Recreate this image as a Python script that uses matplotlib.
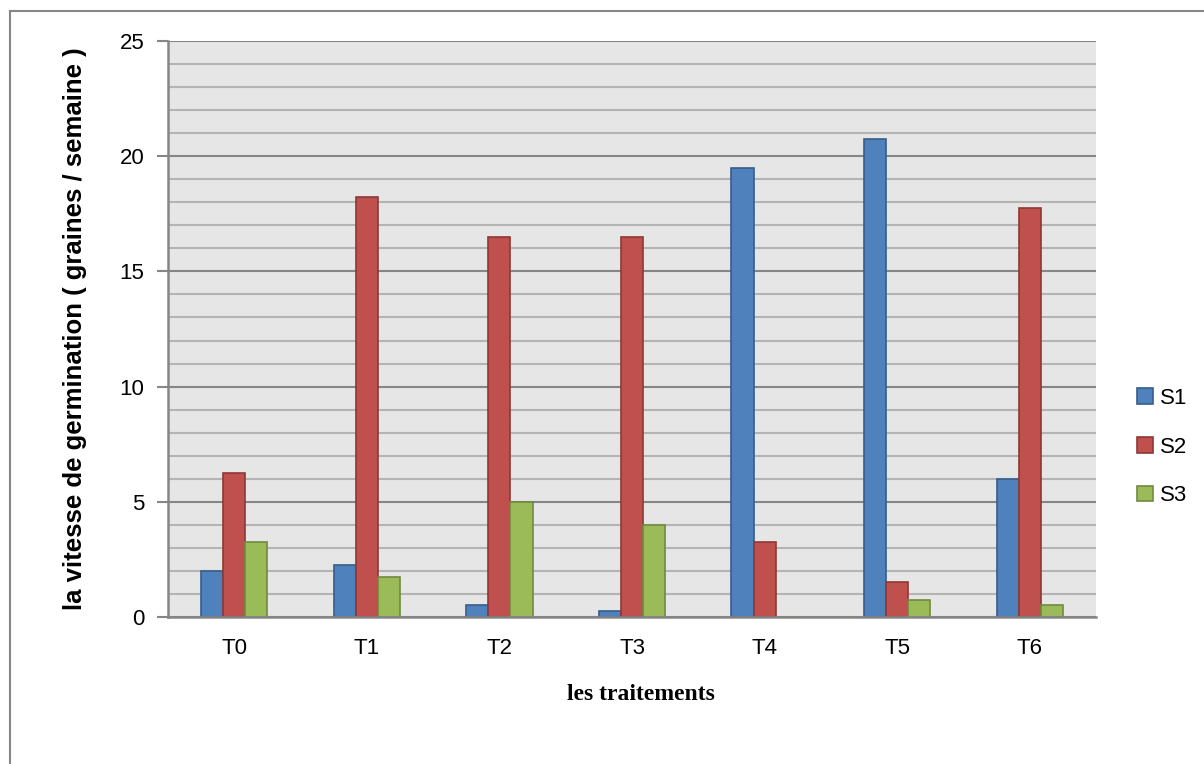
import numpy as np
import matplotlib
matplotlib.use("Agg")
import matplotlib.pyplot as plt
from matplotlib.lines import Line2D
from matplotlib.ticker import MultipleLocator

# Germination speed per treatment and sowing
traitements = ["T0", "T1", "T2", "T3", "T4", "T5", "T6"]
s1 = [2.0, 2.25, 0.5, 0.25, 19.5, 20.75, 6.0]
s2 = [6.25, 18.25, 16.5, 16.5, 3.25, 1.5, 17.75]
s3 = [3.25, 1.75, 5.0, 4.0, 0.0, 0.75, 0.5]
series_names = ["S1", "S2", "S3"]

fills = ["#4F81BD", "#C0504D", "#9BBB59"]
edges = ["#385D8A", "#8C3836", "#71893F"]

sans = ["Liberation Sans", "DejaVu Sans"]

fig = plt.figure(figsize=(12.04, 7.64), dpi=100)
ax = fig.add_axes([168 / 1204, 1 - 617 / 764, (1096 - 168) / 1204, (617 - 41) / 764])

x = np.arange(len(traitements))
w = 1 / 6
for i, vals in enumerate([s1, s2, s3]):
    ax.bar(x + (i - 1) * w, vals, width=w, color=fills[i], edgecolor=edges[i],
           linewidth=1.2, label=series_names[i], zorder=3)

ax.set_xlim(-0.5, len(traitements) - 0.5)
ax.set_ylim(0, 25)
ax.set_facecolor("#E6E6E6")
ax.yaxis.set_major_locator(MultipleLocator(5))
ax.yaxis.set_minor_locator(MultipleLocator(1))
ax.grid(which="minor", axis="y", color="#B4B4B4", linewidth=1.5, zorder=1)
ax.grid(which="major", axis="y", color="#868686", linewidth=1.5, zorder=2)

for side in ["top", "right"]:
    ax.spines[side].set_visible(False)
for side in ["left", "bottom"]:
    ax.spines[side].set_color("#868686")
    ax.spines[side].set_linewidth(1.8)
    ax.spines[side].set_zorder(4)

ax.tick_params(axis="y", which="major", length=8, width=1.5, color="#868686", pad=9)
ax.tick_params(axis="y", which="minor", length=0)
ax.tick_params(axis="x", length=0, pad=15)
ax.set_xticks(x)
ax.set_xticklabels(traitements)
for lab in ax.get_xticklabels() + ax.get_yticklabels():
    lab.set_family(sans)
    lab.set_fontsize(16)

fig.text(641 / 1204, 1 - 694 / 764, "les traitements", family=["Liberation Serif", "DejaVu Serif"],
         fontweight="bold", fontsize=17, ha="center", va="center")
fig.text(75 / 1204, 1 - 329 / 764, "la vitesse de germination ( graines / semaine )",
         family=sans, fontweight="bold", fontsize=18.5, rotation=90, ha="center", va="center")

leg = ax.legend(loc="center left", bbox_to_anchor=(1137 / 928 - 168 / 928, 0.295), frameon=False,
                prop={"family": sans, "size": 16}, handlelength=0.7, handleheight=0.7,
                handletextpad=0.35, labelspacing=1.25, borderpad=0, borderaxespad=0)

# outer chart frame (left and top edges)
fig.add_artist(Line2D([10 / 1204, 10 / 1204], [0, 1 - 11 / 764], transform=fig.transFigure,
                      color="#868686", linewidth=1.5))
fig.add_artist(Line2D([10 / 1204, 1], [1 - 11 / 764, 1 - 11 / 764], transform=fig.transFigure,
                      color="#868686", linewidth=1.5))

fig.savefig("out.png", dpi=100, facecolor="white")
